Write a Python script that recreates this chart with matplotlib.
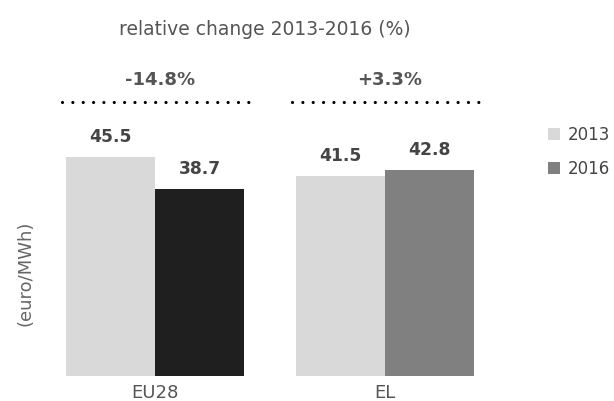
import matplotlib
matplotlib.use("Agg")
import matplotlib.pyplot as plt
import numpy as np

plt.rcParams['font.family'] = ['DejaVu Sans']

# data ----
regions = ["EU28", "EL"]
years = ["2013", "2016"]
price_2013 = [45.5, 41.5]
price_2016 = [38.7, 42.8]
change = ["-14.8%", "+3.3%"]
#----------

c13 = "#d9d9d9"
c16 = ["#1f1f1f", "#808080"]
txt = "#555555"

fig = plt.figure(figsize=(6.14, 4.01), dpi=100)
ax = fig.add_axes([0, 25/401, 1, 376/401])

x = np.arange(len(regions))
w = 0.387
b13 = ax.bar(x - w/2, price_2013, w, color=c13, label=years[0])
b16 = ax.bar(x + w/2, price_2016, w, color=c16)

# legend proxy for 2016 (grey square)
ax.bar([0], [0], 0, color="#808080", label=years[1])

for rect, v in zip(list(b13) + list(b16), price_2013 + price_2016):
    ax.text(rect.get_x() + rect.get_width()/2, v + 2.3, f"{v:.1f}",
            ha="center", va="bottom", fontsize=12.3, fontweight="bold", color="#444444")

# dotted line + relative change
for xi, ch in zip(x, change):
    ax.plot([xi - 0.406, xi + 0.41], [56.8, 56.8], color="black", lw=2.3,
            linestyle=(0, (0.01, 3.23)), dash_capstyle="round")
    ax.text(xi + 0.02, 61.4, ch, ha="center", va="center", fontsize=13,
            fontweight="bold", color=txt)

ax.text(0.478, 71.8, "relative change 2013-2016 (%)", ha="center", va="center",
        fontsize=13.5, color=txt)

ax.set_xlim(-155/230, 459/230)
ax.set_ylim(0, 376/4.82)
ax.axis("off")

for xi, r in zip(x, regions):
    ax.text(xi, -3.5, r, ha="center", va="center", fontsize=13, color="#555555")

fig.text(26/614, 1 - 273/401, "(euro/MWh)", rotation=90, ha="center", va="center",
         fontsize=13, color="#666666")

leg = ax.legend(loc="upper left", bbox_to_anchor=(548/614, (376 - 126)/376), frameon=False,
                fontsize=12, handlelength=0.72, handleheight=0.72, handletextpad=0.45,
                labelspacing=0.95, borderaxespad=0, borderpad=0)
for t in leg.get_texts():
    t.set_color("#444444")

plt.savefig("out.png", dpi=100)
